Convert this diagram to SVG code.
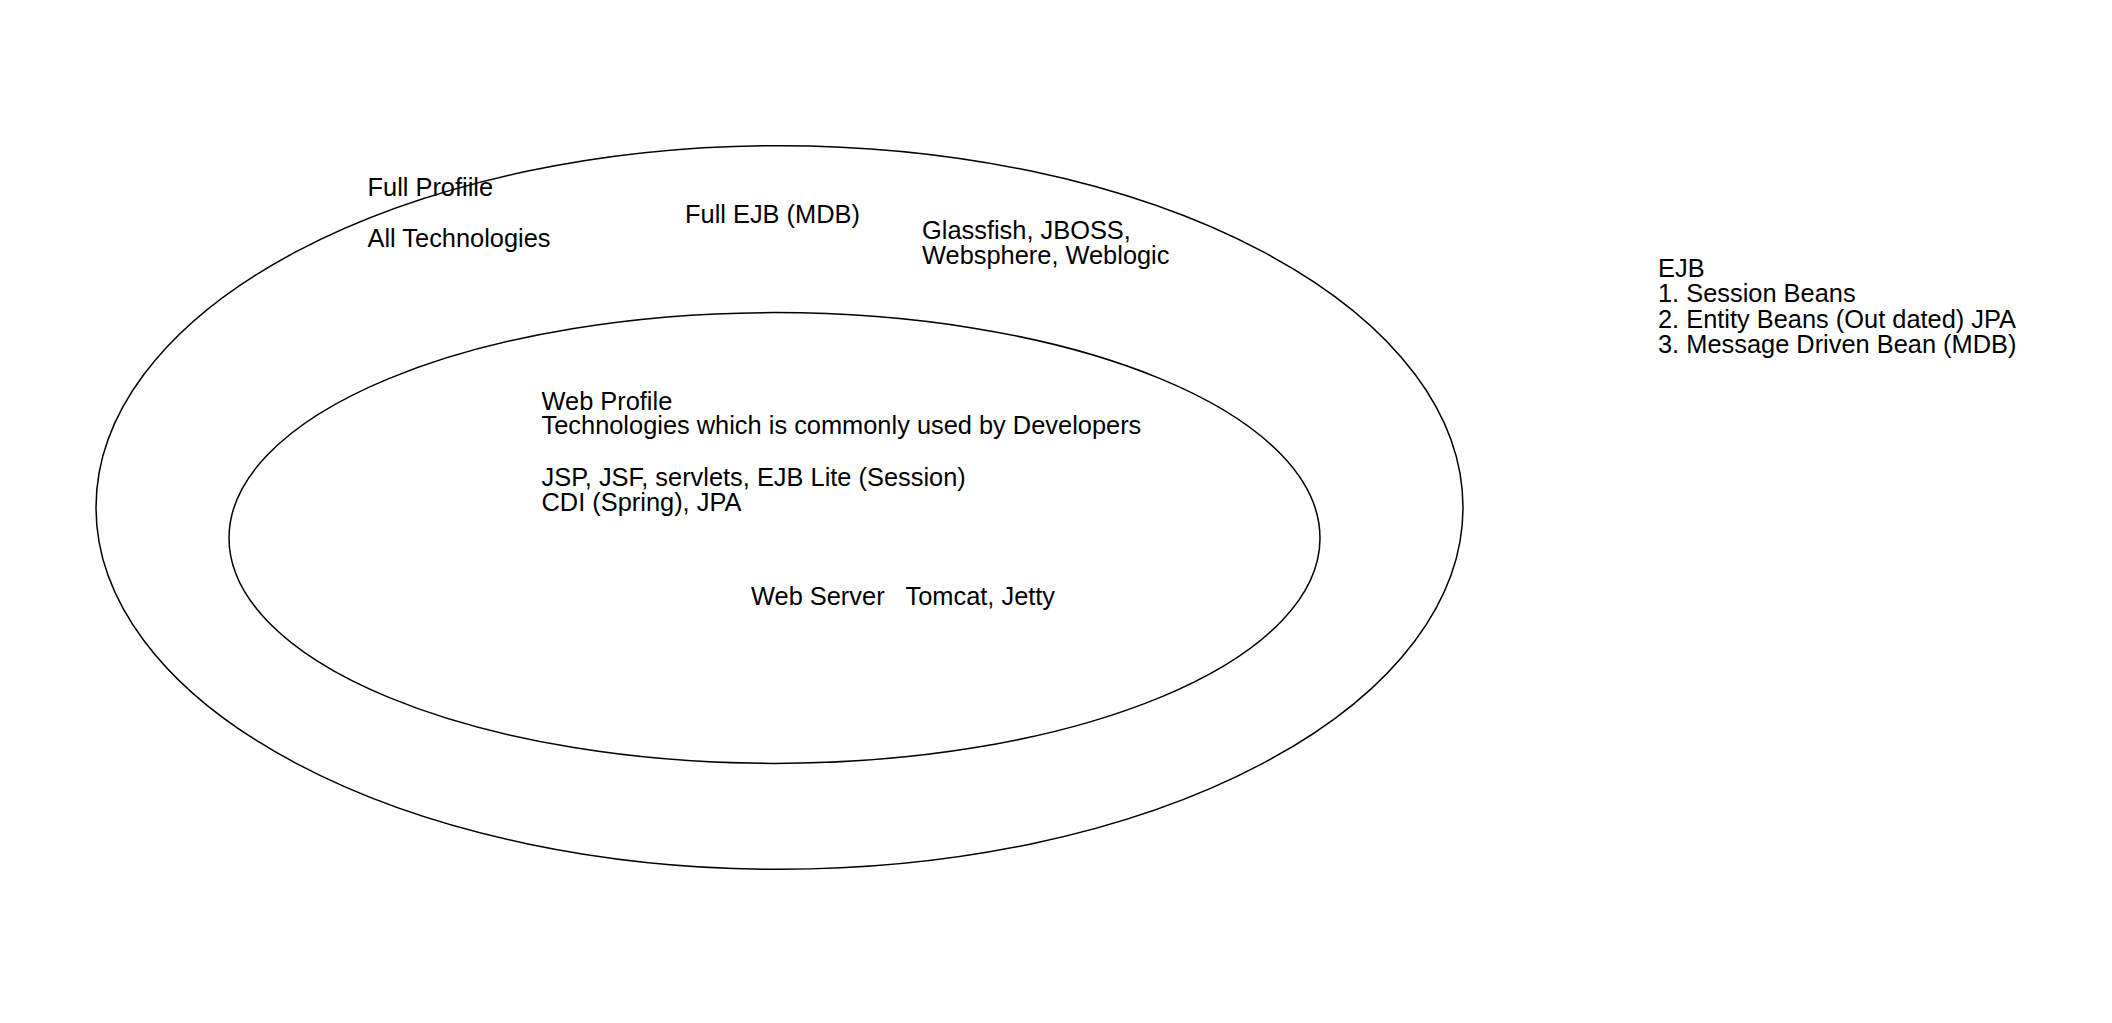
<svg xmlns="http://www.w3.org/2000/svg" width="2112" height="1023" viewBox="0 0 2112 1023">
<style>
.shape{fill:none;stroke:#000;stroke-width:1.5}
text{font-family:"Liberation Sans",Arial,sans-serif;font-size:25.4px;fill:#000}
</style>
<rect width="2112" height="1023" fill="#fff"/>
<g id="full-profile">
<ellipse class="shape" cx="779.5" cy="507.5" rx="683.5" ry="361.8"/>
</g>
<g id="web-profile">
<ellipse class="shape" cx="774.5" cy="538" rx="545.5" ry="225.4"/>
</g>
<g id="connectors"></g>
<g id="label-full-profile"><text x="367.5" y="196">Full Profiile</text></g>
<g id="label-all-tech"><text x="367.5" y="247">All Technologies</text></g>
<g id="label-full-ejb"><text x="685" y="223">Full EJB (MDB)</text></g>
<g id="label-servers"><text x="922"><tspan x="922" y="239">Glassfish, JBOSS,</tspan><tspan x="922" y="264">Websphere, Weblogic</tspan></text></g>
<g id="label-ejb"><text><tspan x="1658" y="277">EJB</tspan><tspan x="1658" y="302">1. Session Beans</tspan><tspan x="1658" y="327.5">2. Entity Beans (Out dated) JPA</tspan><tspan x="1658" y="352.5">3. Message Driven Bean (MDB)</tspan></text></g>
<g id="label-web-profile"><text><tspan x="541.5" y="410">Web Profile</tspan><tspan x="541.5" y="434">Technologies which is commonly used by Developers</tspan><tspan x="541.5" y="485.5">JSP, JSF, servlets, EJB Lite (Session)</tspan><tspan x="541.5" y="510.5">CDI (Spring), JPA</tspan></text></g>
<g id="label-web-server"><text y="604.5"><tspan x="751">Web Server</tspan><tspan x="905.5">Tomcat, Jetty</tspan></text></g>
</svg>
